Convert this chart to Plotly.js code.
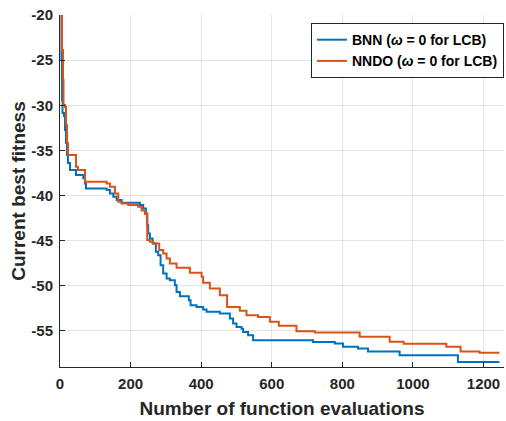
<!DOCTYPE html>
<html>
<head>
<meta charset="utf-8">
<script src="https://cdn.plot.ly/plotly-3.0.1.min.js"></script>
<style>html,body{margin:0;padding:0;background:#fff;}#chart{width:506px;height:421px;}</style>
</head>
<body>
<div id="chart"></div>
<script>
// Step-wise best-fitness histories (x = evaluation count where a new level starts)
const bnnX = [1.4, 4.2, 5.7, 7.1, 11.3, 14.2, 17.0, 19.8, 22.6, 28.3, 45.3, 65.9, 70.8, 73.6, 132.2, 141.5, 150.9, 160.5, 174.6, 226.4, 235.8, 243.4, 247.1, 249.9, 254.7, 262.4, 271.7, 278.2, 285.0, 292.4, 302.0, 311.4, 325.5, 330.3, 339.7, 365.1, 369.9, 386.9, 405.6, 415.2, 452.9, 481.2, 490.5, 500.1, 514.3, 518.8, 533.0, 547.1, 717.0, 778.4, 801.9, 844.4, 872.6, 962.3, 1127.4, 1245];
const bnnY = [-20.0, -24.99, -29.42, -30.86, -31.20, -32.75, -34.19, -35.52, -36.41, -37.18, -37.74, -38.10, -38.66, -39.21, -39.40, -39.77, -40.14, -40.51, -40.81, -41.06, -41.43, -41.98, -43.28, -44.20, -44.76, -45.31, -46.24, -46.61, -47.72, -48.64, -49.20, -49.38, -49.93, -50.68, -51.15, -51.60, -52.15, -52.34, -52.63, -52.89, -53.07, -53.63, -54.18, -54.56, -54.76, -55.11, -55.48, -56.03, -56.22, -56.40, -56.77, -56.95, -57.27, -57.69, -58.44, -58.44];

const nndoX = [2.8, 5.7, 8.5, 9.9, 14.2, 17.0, 19.8, 22.6, 45.3, 50.9, 70.8, 132.2, 141.5, 155.7, 165.0, 174.6, 193.3, 221.6, 231.2, 240.6, 247.1, 254.7, 264.1, 281.1, 292.4, 302.0, 311.4, 330.3, 368.0, 401.1, 405.6, 424.6, 452.9, 473.5, 509.5, 528.4, 561.3, 594.4, 619.9, 670.0, 721.8, 849.1, 934.1, 973.7, 1094.6, 1135.0, 1188.8, 1245];
const nndoY = [-20.0, -23.88, -27.21, -29.98, -30.20, -32.20, -34.19, -35.52, -36.82, -37.18, -38.48, -38.66, -39.04, -39.77, -40.70, -40.88, -41.06, -41.25, -41.67, -42.06, -44.94, -45.13, -45.31, -46.05, -46.42, -46.97, -47.53, -47.99, -48.57, -49.01, -49.66, -50.30, -51.04, -52.34, -52.76, -53.26, -53.45, -54.00, -54.42, -55.03, -55.18, -55.66, -56.20, -56.42, -56.77, -57.28, -57.43, -57.43];

const seriesNames = ['<b>BNN (<i>ω</i> = 0 for LCB)</b>', '<b>NNDO (<i>ω</i> = 0 for LCB)</b>'];
const xTicks = [0, 200, 400, 600, 800, 1000, 1200];
const yTicks = [-20, -25, -30, -35, -40, -45, -50, -55];
const xTitle = 'Number of function evaluations';
const yTitle = 'Current best fitness';

const FONT = 'Liberation Sans, Arial, Helvetica, sans-serif';
const DARK = '#262626';

const traces = [
  {x: bnnX, y: bnnY, name: seriesNames[0], type: 'scatter', mode: 'lines',
   line: {color: '#0072BD', width: 2, shape: 'hv'}},
  {x: nndoX, y: nndoY, name: seriesNames[1], type: 'scatter', mode: 'lines',
   line: {color: '#D95319', width: 2, shape: 'hv'}}
];

const axisCommon = {
  showline: true, linecolor: DARK, linewidth: 1,
  ticks: 'inside', ticklen: 5, tickcolor: DARK, tickwidth: 1,
  showgrid: true, gridcolor: '#e3e3e3', gridwidth: 1,
  zeroline: false, automargin: false,
  tickfont: {family: FONT, size: 15, color: DARK, weight: 'bold'}
};

const layout = {
  width: 506, height: 421,
  margin: {l: 60, r: 2, t: 15, b: 54},
  paper_bgcolor: '#ffffff', plot_bgcolor: '#ffffff',
  showlegend: true,
  legend: {
    x: 1, xanchor: 'right', y: 0.977, yanchor: 'top',
    bgcolor: '#ffffff', bordercolor: DARK, borderwidth: 1,
    font: {family: FONT, size: 14, color: '#000', weight: 'bold'},
    itemwidth: 30, tracegroupgap: 0
  },
  xaxis: Object.assign({}, axisCommon, {
    range: [0, 1258], tickvals: xTicks, ticktext: xTicks.map(String),
    ticklabelstandoff: 3,
    title: {text: xTitle, font: {family: FONT, size: 19, color: DARK, weight: 'bold'}, standoff: 10}
  }),
  yaxis: Object.assign({}, axisCommon, {
    range: [-59, -20], tickvals: yTicks, ticktext: yTicks.map(String),
    ticklabelstandoff: 3,
    title: {text: yTitle, font: {family: FONT, size: 19, color: DARK, weight: 'bold'}, standoff: 0}
  })
};

Plotly.newPlot('chart', traces, layout, {displayModeBar: false, staticPlot: true});
</script>
</body>
</html>
